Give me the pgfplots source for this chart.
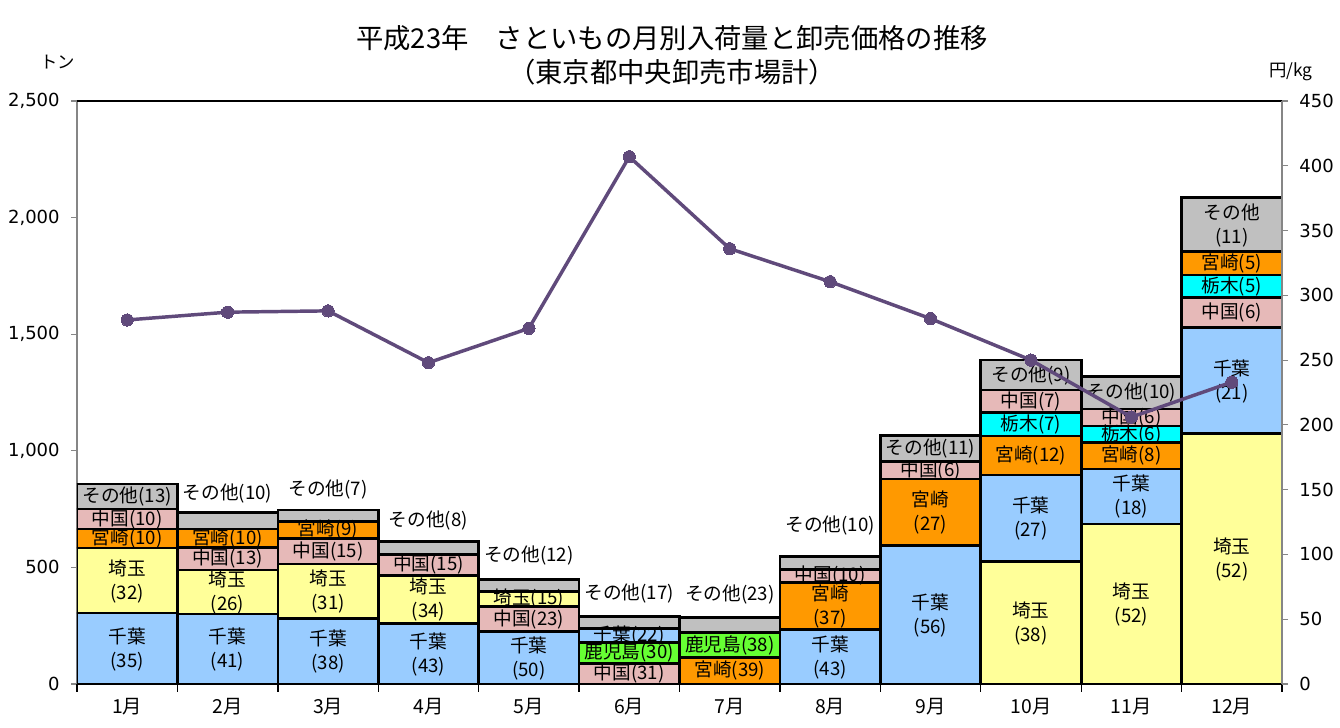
\documentclass[border=0pt]{standalone}
\usepackage{fontspec}
\setmainfont{Noto Sans CJK JP}
\newfontfamily\numfont{DejaVu Sans}
\usepackage{pgfplots}
\usepackage{pgfplotstable}
\pgfplotsset{compat=1.18}
\definecolor{chiba}{HTML}{99CCFF}
\definecolor{saitama}{HTML}{FFFF99}
\definecolor{miyazaki}{HTML}{FF9900}
\definecolor{chugoku}{HTML}{E6B9B8}
\definecolor{tochigi}{HTML}{00FFFF}
\definecolor{kagoshima}{HTML}{66FF33}
\definecolor{sonota}{HTML}{C0C0C0}
\definecolor{linec}{HTML}{604A7B}
\definecolor{axgray}{HTML}{868686}
\tikzset{lbl/.style={font=\fontsize{14}{18}\selectfont, align=center, inner sep=0pt}}
\pgfplotsset{chartpos/.style={at={(57.75pt,33pt)}, anchor=south west,
  scale only axis, width=903.75pt, height=437.25pt, xmin=0.5, xmax=12.5}}

% stacking layers (bottom -> top); zero where a layer is absent in a month
\pgfplotstableread{
m  s1   s2 s3  s4  s5  s6  s7  s8 s9  s10 s11 s12 s13
1  0    0  0   0   304 279 0   0  81  0   86  0   107
2  0    0  0   0   300 189 96  0  80  0   0   0   70
3  0    0  0   0   282 232 111 0  71  0   0   0   50
4  0    0  0   0   260 206 90  0  0   0   0   0   54
5  0    0  0   0   224 0   107 67 0   0   0   0   51
6  0    89 0   90  60  0   0   0  0   0   0   0   50
7  0    0  113 107 0   0   0   0  0   0   0   0   64
8  0    0  0   0   235 0   0   0  200 0   57  0   54
9  0    0  0   0   593 0   0   0  286 0   74  0   114
10 524  0  0   0   372 0   0   0  167 100 97  0   129
11 686  0  0   0   236 0   0   0  113 72  72  0   140
12 1075 0  0   0   453 0   129 0  0   97  0   100 233
}\vol

\pgfplotstableread{
m  price
1  281
2  287
3  288
4  248
5  274.5
6  407
7  336
8  310.5
9  282
10 250
11 206
12 233
}\price

\begin{document}
\begin{tikzpicture}[x=1pt,y=1pt]
\useasboundingbox (0,0) rectangle (1005,546);
\fill[white] (0,0) rectangle (1005,546);
\node[font=\fontsize{20.5}{24}\selectfont] at (504,517.5) {平成23年　さといもの月別入荷量と卸売価格の推移};
\node[font=\fontsize{20.5}{24}\selectfont] at (504,492) {（東京都中央卸売市場計）};
\node[font=\fontsize{13}{15}\selectfont] at (43.5,499.5) {トン};
\node[font=\fontsize{13}{15}\selectfont] at (968,492) {円/kg};

% bars
\begin{axis}[
  chartpos,
  ymin=0, ymax=2500,
  ybar stacked, bar width=1,
  axis x line*=bottom, axis y line*=left,
  x axis line style={black, line width=1.8pt, -},
  y axis line style={axgray, line width=0.8pt, -},
  xtick={1,...,12},
  xticklabels={1月,2月,3月,4月,5月,6月,7月,8月,9月,10月,11月,12月},
  xtick style={draw=none},
  extra x ticks={0.5,1.5,...,12.5},
  extra x tick labels={},
  extra x tick style={xtick style={draw=black, line width=1pt}, major tick length=6pt, tick align=outside},
  ytick={0,500,...,2500},
  yticklabels={0,500,{1,000},{1,500},{2,000},{2,500}},
  ytick style={axgray, line width=0.8pt},
  tick align=outside, major tick length=4.5pt,
  xticklabel style={font=\fontsize{14.5}{16}\selectfont, yshift=-3pt},
  yticklabel style={font=\numfont\fontsize{13.5}{16}\selectfont, xshift=-5pt},
  every axis plot/.append style={draw=black, line width=2pt},
  after end axis/.code={\draw[black, line width=1pt] (rel axis cs:0,1) -- (rel axis cs:1,1);},
]
\addplot[fill=saitama]   table[x=m,y=s1]{\vol};
\addplot[fill=chugoku]   table[x=m,y=s2]{\vol};
\addplot[fill=miyazaki]  table[x=m,y=s3]{\vol};
\addplot[fill=kagoshima] table[x=m,y=s4]{\vol};
\addplot[fill=chiba]     table[x=m,y=s5]{\vol};
\addplot[fill=saitama]   table[x=m,y=s6]{\vol};
\addplot[fill=chugoku]   table[x=m,y=s7]{\vol};
\addplot[fill=saitama]   table[x=m,y=s8]{\vol};
\addplot[fill=miyazaki]  table[x=m,y=s9]{\vol};
\addplot[fill=tochigi]   table[x=m,y=s10]{\vol};
\addplot[fill=chugoku]   table[x=m,y=s11]{\vol};
\addplot[fill=miyazaki]  table[x=m,y=s12]{\vol};
\addplot[fill=sonota]    table[x=m,y=s13]{\vol};
\end{axis}

% segment labels
\begin{axis}[chartpos, ymin=0, ymax=2500, hide axis, clip=false]
% month 1
\node[lbl] at (axis cs:1,150) {千葉\\(35)};
\node[lbl] at (axis cs:1,441) {埼玉\\(32)};
\node[lbl] at (axis cs:1,623.5) {宮崎(10)};
\node[lbl] at (axis cs:1,707) {中国(10)};
\node[lbl] at (axis cs:1,803.5) {その他(13)};
% month 2
\node[lbl] at (axis cs:2,148) {千葉\\(41)};
\node[lbl] at (axis cs:2,392) {埼玉\\(26)};
\node[lbl] at (axis cs:2,537) {中国(13)};
\node[lbl] at (axis cs:2,625) {宮崎(10)};
\node[lbl] at (axis cs:2,815) {その他(10)};
% month 3
\node[lbl] at (axis cs:3,139) {千葉\\(38)};
\node[lbl] at (axis cs:3,396) {埼玉\\(31)};
\node[lbl] at (axis cs:3,569.5) {中国(15)};
\node[lbl] at (axis cs:3,660.5) {宮崎(9)};
\node[lbl] at (axis cs:3,832) {その他(7)};
% month 4
\node[lbl] at (axis cs:4,128) {千葉\\(43)};
\node[lbl] at (axis cs:4,361) {埼玉\\(34)};
\node[lbl] at (axis cs:4,511) {中国(15)};
\node[lbl] at (axis cs:4,699) {その他(8)};
% month 5
\node[lbl] at (axis cs:5,110) {千葉\\(50)};
\node[lbl] at (axis cs:5,277.5) {中国(23)};
\node[lbl] at (axis cs:5,364.5) {埼玉(15)};
\node[lbl] at (axis cs:5,549) {その他(12)};
% month 6
\node[lbl] at (axis cs:6,44.5) {中国(31)};
\node[lbl] at (axis cs:6,134) {鹿児島(30)};
\node[lbl] at (axis cs:6,209) {千葉(22)};
\node[lbl] at (axis cs:6,386) {その他(17)};
% month 7
\node[lbl] at (axis cs:7,56.5) {宮崎(39)};
\node[lbl] at (axis cs:7,166.5) {鹿児島(38)};
\node[lbl] at (axis cs:7,382) {その他(23)};
% month 8
\node[lbl] at (axis cs:8,115) {千葉\\(43)};
\node[lbl] at (axis cs:8,333) {宮崎\\(37)};
\node[lbl] at (axis cs:8,463.5) {中国(10)};
\node[lbl] at (axis cs:8,678) {その他(10)};
% month 9
\node[lbl] at (axis cs:9,294) {千葉\\(56)};
\node[lbl] at (axis cs:9,734) {宮崎\\(27)};
\node[lbl] at (axis cs:9,916) {中国(6)};
\node[lbl] at (axis cs:9,1010) {その他(11)};
% month 10
\node[lbl] at (axis cs:10,260) {埼玉\\(38)};
\node[lbl] at (axis cs:10,708) {千葉\\(27)};
\node[lbl] at (axis cs:10,979.5) {宮崎(12)};
\node[lbl] at (axis cs:10,1113) {栃木(7)};
\node[lbl] at (axis cs:10,1211.5) {中国(7)};
\node[lbl] at (axis cs:10,1324.5) {その他(9)};
% month 11
\node[lbl] at (axis cs:11,341) {埼玉\\(52)};
\node[lbl] at (axis cs:11,802) {千葉\\(18)};
\node[lbl] at (axis cs:11,978.5) {宮崎(8)};
\node[lbl] at (axis cs:11,1071) {栃木(6)};
\node[lbl] at (axis cs:11,1143) {中国(6)};
\node[lbl] at (axis cs:11,1249) {その他(10)};
% month 12
\node[lbl] at (axis cs:12,535) {埼玉\\(52)};
\node[lbl] at (axis cs:12,1299) {千葉\\(21)};
\node[lbl] at (axis cs:12,1592.5) {中国(6)};
\node[lbl] at (axis cs:12,1705.5) {栃木(5)};
\node[lbl] at (axis cs:12,1804) {宮崎(5)};
\node[lbl] at (axis cs:12,1968) {その他\\(11)};
\end{axis}

% price line
\begin{axis}[
  chartpos,
  ymin=0, ymax=450,
  axis x line=none, axis y line*=right,
  y axis line style={axgray, line width=0.8pt, -},
  ytick={0,50,...,450},
  ytick style={axgray, line width=0.8pt},
  tick align=outside, major tick length=4.5pt,
  yticklabel style={font=\numfont\fontsize{13.5}{16}\selectfont, xshift=5pt},
  /pgf/number format/assume math mode=true,
]
\addplot[color=linec, line width=2.6pt, mark=*, mark size=4.6pt, mark options={fill=linec, draw=linec, line width=0pt}] table[x=m,y=price]{\price};
\end{axis}
\end{tikzpicture}
\end{document}
